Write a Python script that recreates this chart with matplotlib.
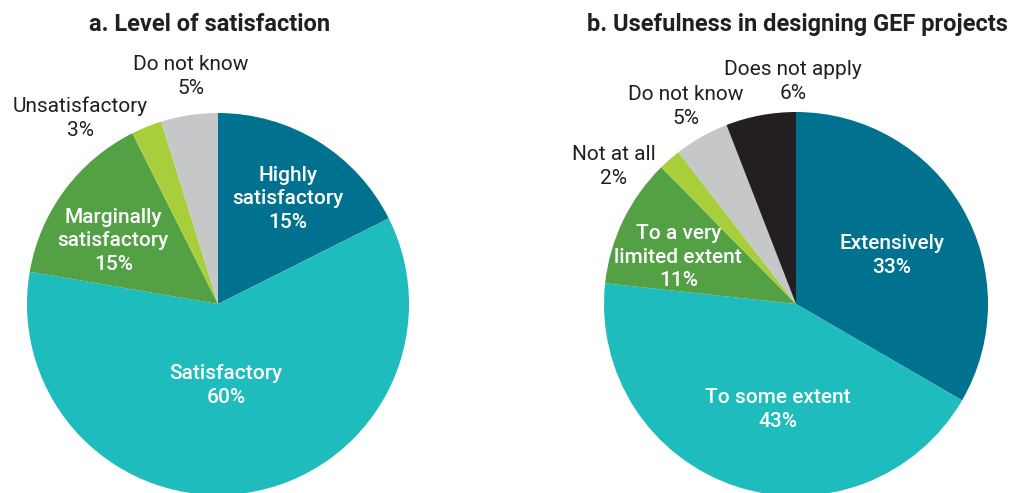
import numpy as np
import matplotlib
matplotlib.use("Agg")
import matplotlib.pyplot as plt

plt.rcParams["font.family"] = ["Roboto", "DejaVu Sans"]

# panel a
sat_labels = ["Highly\nsatisfactory", "Satisfactory", "Marginally\nsatisfactory",
              "Unsatisfactory", "Do not know"]
sat_shares = [17.6, 60.1, 14.9, 2.6, 4.8]      # wedge sizes as drawn
sat_pct    = ["15%", "60%", "15%", "3%", "5%"]  # printed labels

# panel b
use_labels = ["Extensively", "To some extent", "To a very\nlimited extent",
              "Not at all", "Do not know", "Does not apply"]
use_shares = [33.4, 43.4, 10.9, 1.9, 4.6, 5.9]
use_pct    = ["33%", "43%", "11%", "2%", "5%", "6%"]

TEAL_DARK = "#00728f"
TURQ      = "#1ebcbc"
GREEN     = "#53a045"
LIME      = "#a8cf3b"
GREY      = "#c6c7c9"
BLACK     = "#231f20"
TXT       = "#231f20"

W, H = 1013, 493
fig = plt.figure(figsize=(W / 100, H / 100), dpi=100)
ax = fig.add_axes([0, 0, 1, 1])


def draw_pie(shares, labels, pcts, colors, center, radius, placement, title, title_x):
    wedges, _ = ax.pie(shares, colors=colors, center=center, radius=radius,
                       startangle=90, counterclock=False, frame=True,
                       wedgeprops=dict(linewidth=0))
    for w, lab, pc, (nudge, rf, inside) in zip(wedges, labels, pcts, placement):
        mid = np.deg2rad((w.theta1 + w.theta2) / 2 + nudge)
        x = center[0] + rf * radius * np.cos(mid)
        y = center[1] + rf * radius * np.sin(mid)
        ax.text(x, y, f"{lab}\n{pc}", ha="center", va="center",
                fontsize=15, linespacing=1.32,
                color="white" if inside else TXT,
                fontweight="medium" if inside else "normal")
    ax.text(title_x, H - 31, title, ha="center", va="baseline",
            fontsize=17, fontweight="bold", color=TXT)


# (angle nudge in degrees, radius fraction, inside?)
draw_pie(sat_shares, sat_labels, sat_pct,
         [TEAL_DARK, TURQ, GREEN, LIME, GREY],
         center=(218, H - 304), radius=191,
         placement=[(-1.8, 0.66, True), (-3.0, 0.43, True), (5.5, 0.64, True),
                    (14.5, 1.21, False), (-1.8, 1.20, False)],
         title="a. Level of satisfaction", title_x=210)

draw_pie(use_shares, use_labels, use_pct,
         [TEAL_DARK, TURQ, GREEN, LIME, GREY, BLACK],
         center=(796, H - 304), radius=192,
         placement=[(-2.9, 0.56, True), (8.2, 0.56, True), (4.1, 0.66, True),
                    (11.8, 1.19, False), (-0.3, 1.18, False), (-9.8, 1.16, False)],
         title="b. Usefulness in designing GEF projects", title_x=797)

ax.set_xlim(0, W)
ax.set_ylim(0, H)
ax.set_aspect("equal")
ax.axis("off")

fig.savefig("out.png", dpi=100, facecolor="white")
